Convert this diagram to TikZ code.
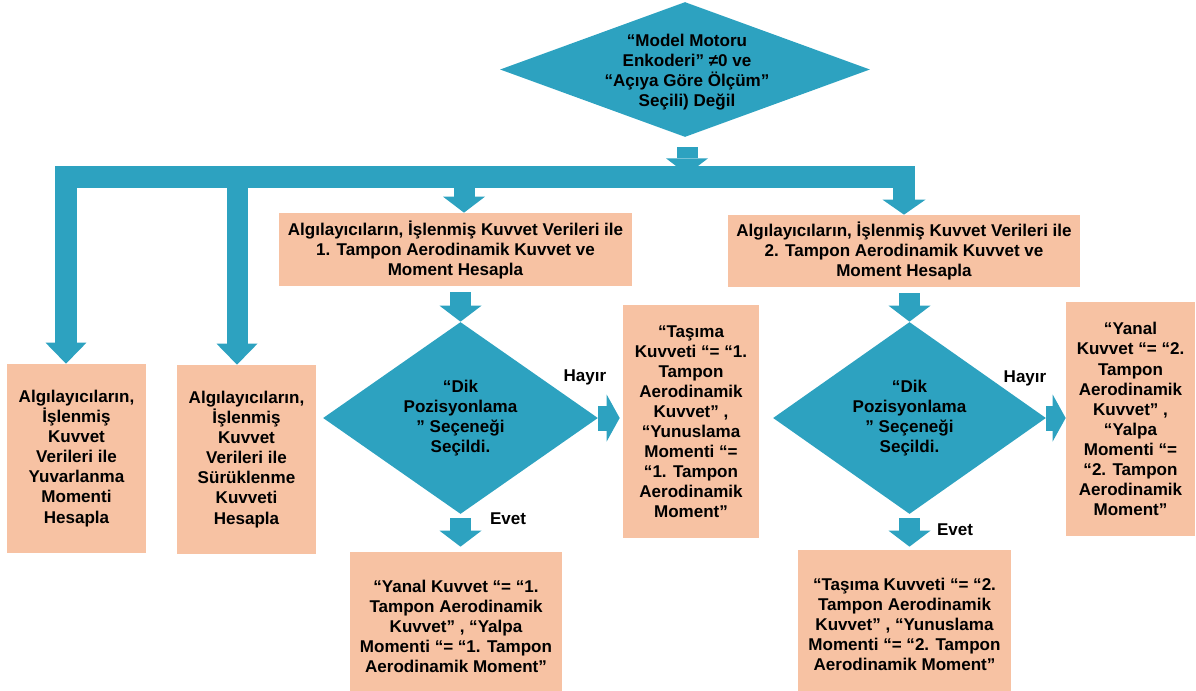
\documentclass[tikz,border=0pt]{standalone}
\usepackage{fontspec}
\setmainfont{Liberation Sans}
\usepackage{xcolor}
\usetikzlibrary{arrows.meta}
\usetikzlibrary{shapes.geometric, calc}
\definecolor{flowblue}{RGB}{45,162,192}
\definecolor{boxpeach}{RGB}{247,194,163}

\begin{document}
\begin{tikzpicture}[x=0.02cm, y=-0.02cm,
  txt/.style={font=\fontsize{9.7}{11.4}\selectfont\bfseries, align=center, inner sep=0pt},
  box/.style={txt, fill=boxpeach},
  dia/.style={diamond, fill=flowblue, inner sep=0pt},
  flow/.style={flowblue, line width=0.42cm, -{Triangle[width=0.84cm, length=0.32cm, line width=0pt]}},
  side/.style={flowblue, line width=0.5cm, -{Triangle[width=0.94cm, length=0.26cm, line width=0pt]}},
  bar/.style={flowblue, line width=0.44cm, line join=miter,
    {Triangle[width=0.82cm, length=0.42cm, line width=0pt]}-{Triangle[width=0.86cm, length=0.3cm, line width=0pt]}}]
\useasboundingbox (0,0) rectangle (1196,690);

% decisions
\node[dia, minimum width=7.4cm, minimum height=2.7cm] (dtop) at (685,69.5) {};
\node[txt] (dtoptxt) at (687,72) {“Model Motoru\\Enkoderi” ≠0 ve\\“Açıya Göre Ölçüm”\\Seçili) Değil};
\node[dia, minimum width=5.5cm, minimum height=3.84cm] (dk1) at (460.5,418) {};
\node[txt] (dk1txt) at (dk1) {“Dik\\Pozisyonlama\\" Seçeneği\\Seçildi.};
\node[dia, minimum width=5.46cm, minimum height=3.84cm] (dk2) at (909.5,418) {};
\node[txt] (dk2txt) at (dk2) {“Dik\\Pozisyonlama\\" Seçeneği\\Seçildi.};

% boxes
\node[box, minimum width=2.78cm, minimum height=3.78cm] (yuv) at (76.5,458.5)
  {Algılayıcıların,\\İşlenmiş\\Kuvvet\\Verileri ile\\Yuvarlanma\\Momenti\\Hesapla};
\node[box, minimum width=2.78cm, minimum height=3.78cm] (sur) at (246.5,459.5)
  {Algılayıcıların,\\İşlenmiş\\Kuvvet\\Verileri ile\\Sürüklenme\\Kuvveti\\Hesapla};
\node[box, minimum width=7.06cm, minimum height=1.46cm] (ta1) at (455.5,249.5)
  {Algılayıcıların, İşlenmiş Kuvvet Verileri ile\\1. Tampon Aerodinamik Kuvvet ve\\Moment Hesapla};
\node[box, minimum width=7.04cm, minimum height=1.44cm] (ta2) at (904,251)
  {Algılayıcıların, İşlenmiş Kuvvet Verileri ile\\2. Tampon Aerodinamik Kuvvet ve\\Moment Hesapla};
\node[box, minimum width=2.72cm, minimum height=4.66cm] (tk1) at (691,421.5)
  {“Taşıma\\Kuvveti “= “1.\\Tampon\\Aerodinamik\\Kuvvet” ,\\“Yunuslama\\Momenti “=\\“1. Tampon\\Aerodinamik\\Moment”};
\node[box, minimum width=2.58cm, minimum height=4.68cm] (yk2) at (1130.5,419)
  {“Yanal\\Kuvvet “= “2.\\Tampon\\Aerodinamik\\Kuvvet” ,\\“Yalpa\\Momenti “=\\“2. Tampon\\Aerodinamik\\Moment”};
\node[box, minimum width=4.24cm, minimum height=2.96cm] (yk1) at (456,626)
  {“Yanal Kuvvet “= “1.\\Tampon Aerodinamik\\Kuvvet” , “Yalpa\\Momenti “= “1. Tampon\\Aerodinamik Moment”};
\node[box, minimum width=4.26cm, minimum height=2.98cm] (tk2) at (904.5,624.5)
  {“Taşıma Kuvveti “= “2.\\Tampon Aerodinamik\\Kuvvet” , “Yunuslama\\Momenti “= “2. Tampon\\Aerodinamik Moment”};

% bar and arrows
\coordinate (barL) at (66,177);
\coordinate (barR) at (904,177);
\coordinate (bar2) at (237,177);
\coordinate (bar3) at (464,177);
\draw[flow] ($(dtop.south)+(2,10)$) -- ++(0,27);
\draw[bar] (barL |- yuv.north) -- (barL) -- (barR) -- (barR |- ta2.north);
\draw[flow, -{Triangle[width=0.82cm, length=0.42cm, line width=0pt]}] (bar2) -- (bar2 |- sur.north);
\draw[flow] (bar3) -- (bar3 |- ta1.north);
\draw[flow] ($(ta1.south -| dk1.north)+(0,6)$) -- (dk1.north);
\draw[flow] ($(ta2.south -| dk2.north)+(0,6)$) -- (dk2.north);
\draw[flow] ($(dk1.south)+(0,4)$) -- ($(dk1.south |- yk1.north)+(0,-5)$);
\draw[flow] ($(dk2.south)+(0,4)$) -- ($(dk2.south |- tk2.north)+(0,-3)$);
\draw[side] (dk1.east) -- ($(dk1.east -| tk1.west)+(-3,0)$);
\draw[side] (dk2.east) -- (dk2.east -| yk2.west);

% labels
\node[txt] (hay1) at (585,377) {Hayır};
\node[txt] (evet1) at (508,519) {Evet};
\node[txt] (hay2) at (1025,378) {Hayır};
\node[txt] (evet2) at (955,530) {Evet};
\end{tikzpicture}
\end{document}
